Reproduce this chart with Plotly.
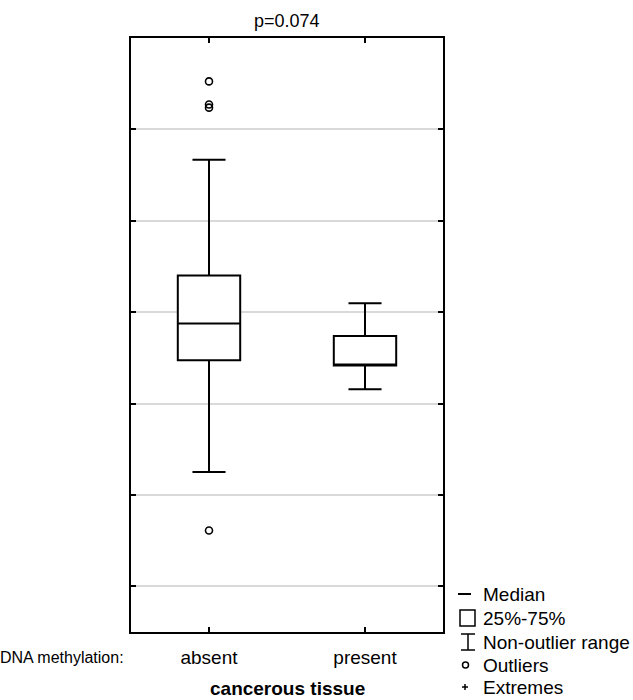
import plotly.graph_objects as go

# Box-plot summary per group
groups = ["absent", "present"]
q1 = [3.475, 3.417]
median = [3.877, 3.417]
q3 = [4.401, 3.738]
lower_fence = [2.251, 3.155]
upper_fence = [5.669, 4.098]

# Outliers (only in the "absent" group)
outlier_groups = ["absent", "absent", "absent", "absent"]
outlier_values = [6.525, 6.272, 6.238, 1.610]

# Key entries
key_labels = ["Median", "25%-75%", "Non-outlier range", "Outliers", "Extremes"]

FONT = "Liberation Sans, Arial, sans-serif"
W, H = 633, 700
ML, MR, MT, MB = 131, 190, 38, 68
PW, PH = W - ML - MR, H - MT - MB


def px(x):
    return (x - ML) / PW


def py(y):
    return (H - MB - y) / PH


fig = go.Figure()

fig.add_trace(go.Box(
    x=groups, q1=q1, median=median, q3=q3,
    lowerfence=lower_fence, upperfence=upper_fence,
    boxpoints=False, fillcolor="white",
    line=dict(color="black", width=2),
    width=0.4, whiskerwidth=0.53,
    showlegend=False, hoverinfo="skip",
))

fig.add_trace(go.Scatter(
    x=outlier_groups, y=outlier_values, mode="markers",
    marker=dict(symbol="circle-open", size=7, color="black",
                line=dict(width=1.6, color="black")),
    showlegend=False, hoverinfo="skip",
))

# Key rows (pixel centres)
key_y = [594, 618, 642, 665, 687]
thin = dict(color="black", width=1.5)

shapes = []
# Median symbol
shapes.append(dict(type="line", xref="paper", yref="paper",
                   x0=px(458), x1=px(471), y0=py(key_y[0]), y1=py(key_y[0]),
                   line=dict(color="black", width=2)))
# Box symbol
shapes.append(dict(type="rect", xref="paper", yref="paper",
                   x0=px(460), x1=px(475), y0=py(key_y[1] - 8), y1=py(key_y[1] + 8), line=thin))
# Whisker symbol
yt, yb = key_y[2] - 8, key_y[2] + 8
shapes.append(dict(type="line", xref="paper", yref="paper",
                   x0=px(468), x1=px(468), y0=py(yt), y1=py(yb), line=thin))
shapes.append(dict(type="line", xref="paper", yref="paper",
                   x0=px(461), x1=px(475), y0=py(yt), y1=py(yt), line=thin))
shapes.append(dict(type="line", xref="paper", yref="paper",
                   x0=px(461), x1=px(475), y0=py(yb), y1=py(yb), line=thin))
# Outlier symbol
shapes.append(dict(type="circle", xref="paper", yref="paper",
                   x0=px(462.5), x1=px(468.5), y0=py(key_y[3] - 3), y1=py(key_y[3] + 3), line=thin))
# Extreme symbol
shapes.append(dict(type="line", xref="paper", yref="paper",
                   x0=px(462), x1=px(468), y0=py(key_y[4]), y1=py(key_y[4]), line=thin))
shapes.append(dict(type="line", xref="paper", yref="paper",
                   x0=px(465), x1=px(465), y0=py(key_y[4] - 3), y1=py(key_y[4] + 3), line=thin))

annotations = []
for lab, yy in zip(key_labels, key_y):
    annotations.append(dict(text=lab, xref="paper", yref="paper", x=px(481), y=py(yy),
                            xanchor="left", yanchor="middle", showarrow=False,
                            font=dict(family=FONT, size=19, color="black")))

annotations.append(dict(text="p=0.074", xref="paper", yref="paper", x=0.5, y=py(21),
                        xanchor="center", yanchor="middle", showarrow=False,
                        font=dict(family=FONT, size=18, color="black")))
annotations.append(dict(text="DNA methylation:", xref="paper", yref="paper", x=px(126), y=py(657),
                        xanchor="right", yanchor="middle", showarrow=False,
                        font=dict(family=FONT, size=16, color="black")))
annotations.append(dict(text="<b>cancerous tissue</b>", xref="paper", yref="paper", x=0.5, y=py(688),
                        xanchor="center", yanchor="middle", showarrow=False,
                        font=dict(family=FONT, size=19, color="black")))

fig.update_layout(
    width=W, height=H,
    margin=dict(l=ML, r=MR, t=MT, b=MB),
    paper_bgcolor="white", plot_bgcolor="white",
    shapes=shapes, annotations=annotations,
    showlegend=False,
    font=dict(family=FONT, color="black"),
)

fig.update_xaxes(
    type="category", range=[-0.5, 1.5],
    showline=True, linecolor="black", linewidth=2, mirror="ticks",
    ticks="inside", ticklen=5, tickwidth=2, tickcolor="black",
    showgrid=False, zeroline=False, ticklabelstandoff=7,
    tickfont=dict(family=FONT, size=19, color="black"),
)
fig.update_yaxes(
    range=[0.5, 7], tickvals=[1, 2, 3, 4, 5, 6],
    showline=True, linecolor="black", linewidth=2, mirror="ticks",
    ticks="inside", ticklen=5, tickwidth=2, tickcolor="black",
    showgrid=True, gridcolor="#d9d9d9", gridwidth=1.5,
    zeroline=False, showticklabels=False,
)

fig.write_html("out.html")
